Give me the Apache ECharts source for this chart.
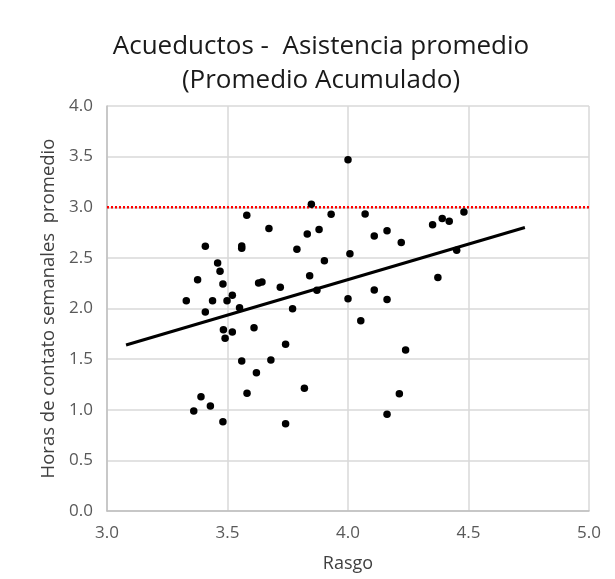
<!DOCTYPE html>
<html>
<head>
<meta charset="utf-8">
<script src="https://cdn.jsdelivr.net/npm/echarts@6/dist/echarts.min.js"></script>
<style>
html,body{margin:0;padding:0;background:#fff;}
#chart{width:615px;height:579px;}
</style>
</head>
<body>
<div id="chart"></div>
<script>
const rasgo = [4.0, 3.848, 3.58, 3.93, 3.672, 3.831, 3.88, 3.408, 3.559, 3.559, 3.788, 4.008,
  3.459, 3.469, 3.902, 3.376, 3.481, 3.841, 3.629, 3.643, 3.719, 3.871, 3.329, 3.438, 3.498,
  3.52, 4.0, 3.55, 3.77, 3.408, 4.071, 4.481, 4.351, 4.391, 4.42, 4.109, 4.162, 4.221, 4.451,
  4.373, 4.109, 4.162, 3.483, 3.52, 3.49, 3.61, 3.741, 3.559, 3.68, 3.62, 3.819, 3.581, 3.39,
  3.429, 3.36, 3.481, 3.741, 4.053, 4.239, 4.213, 4.162];
const horas = [3.47, 3.03, 2.92, 2.93, 2.79, 2.736, 2.78, 2.614, 2.617, 2.594, 2.585, 2.54,
  2.449, 2.367, 2.472, 2.285, 2.242, 2.324, 2.252, 2.262, 2.209, 2.18, 2.077, 2.077, 2.077,
  2.13, 2.097, 2.008, 1.998, 1.965, 2.933, 2.953, 2.828, 2.89, 2.861, 2.716, 2.768, 2.653, 2.575,
  2.305, 2.183, 2.09, 1.791, 1.768, 1.705, 1.81, 1.646, 1.481, 1.491, 1.366, 1.212, 1.162, 1.129,
  1.037, 0.988, 0.882, 0.862, 1.88, 1.59, 1.158, 0.955];
const trendX = [3.079, 4.734];
const trendY = [1.64, 2.80];
const refX = [3.0, 5.0];
const refY = [3.0, 3.0];
const xTicks = [3.0, 3.5, 4.0, 4.5, 5.0];
const yTicks = [0.0, 0.5, 1.0, 1.5, 2.0, 2.5, 3.0, 3.5, 4.0];

const chart = echarts.init(document.getElementById('chart'));
const font = '"Open Sans", "Noto Sans", sans-serif';
chart.setOption({
  backgroundColor: '#fff',
  animation: false,
  textStyle: { fontFamily: font },
  title: {
    text: 'Acueductos -  Asistencia promedio\n(Promedio Acumulado)',
    left: 316, top: 25, textAlign: 'center',
    textStyle: { fontFamily: font, fontSize: 26, fontWeight: 'normal', color: '#1a1a1a', lineHeight: 34 }
  },
  grid: { left: 107, right: 26, top: 106, bottom: 68 },
  xAxis: {
    type: 'value', min: xTicks[0], max: xTicks[xTicks.length - 1], interval: 0.5,
    name: 'Rasgo', nameLocation: 'middle', nameGap: 44,
    nameTextStyle: { fontSize: 18, color: '#404040', fontFamily: font },
    axisLine: { show: true, lineStyle: { color: '#bfbfbf', width: 1.5 } },
    axisTick: { show: false },
    axisLabel: { fontSize: 17, color: '#595959', margin: 14, formatter: v => v.toFixed(1) },
    splitLine: { show: true, lineStyle: { color: '#d9d9d9', width: 1.5 } }
  },
  yAxis: {
    type: 'value', min: yTicks[0], max: yTicks[yTicks.length - 1], interval: 0.5,
    name: 'Horas de contato semanales  promedio', nameLocation: 'middle', nameGap: 46,
    nameTextStyle: { fontSize: 18.5, color: '#404040', fontFamily: font },
    axisLine: { show: true, lineStyle: { color: '#bfbfbf', width: 1.5 } },
    axisTick: { show: false },
    axisLabel: { fontSize: 17, color: '#595959', margin: 14, formatter: v => v.toFixed(1) },
    splitLine: { show: true, lineStyle: { color: '#d9d9d9', width: 1.5 } }
  },
  series: [
    {
      type: 'line', data: refX.map((x, i) => [x, refY[i]]), symbol: 'none',
      lineStyle: { color: '#ff0000', width: 2.5, type: [2, 2] }, z: 2
    },
    {
      type: 'line', data: trendX.map((x, i) => [x, trendY[i]]), symbol: 'none',
      lineStyle: { color: '#000', width: 3 }, z: 3
    },
    {
      type: 'scatter', data: rasgo.map((x, i) => [x, horas[i]]), symbolSize: 7.5,
      itemStyle: { color: '#000', opacity: 1 }, z: 4
    }
  ]
});
</script>
</body>
</html>
